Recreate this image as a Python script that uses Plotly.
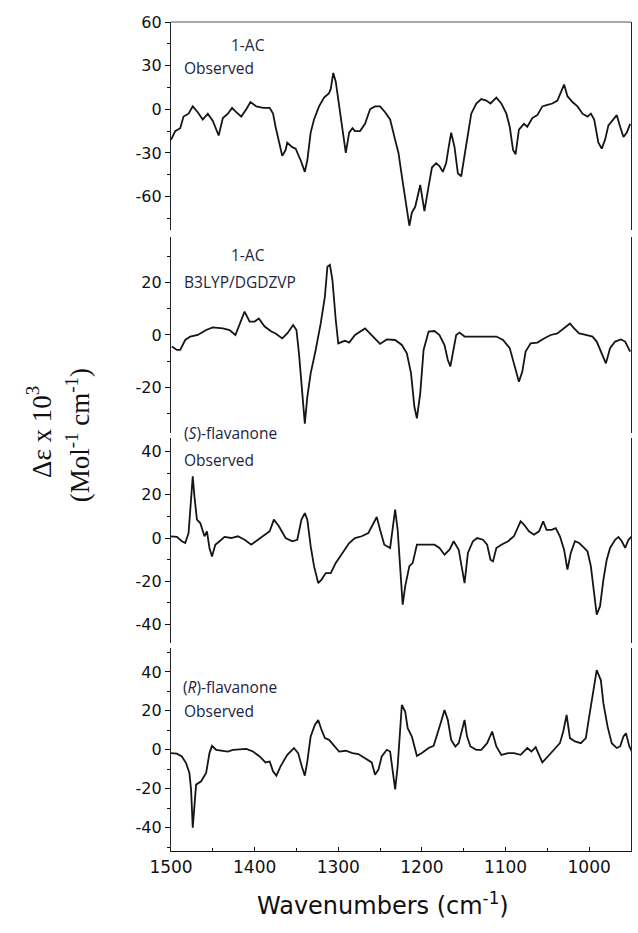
import plotly.graph_objects as go

# --- data (wavenumber in cm-1, delta-epsilon x 10^3) ---
wn_ac_obs = [1500, 1495, 1489, 1485, 1479, 1474, 1468, 1462, 1456, 1450, 1443, 1438, 1432, 1427, 1422,
             1416, 1410, 1405, 1398, 1390, 1382, 1378, 1375, 1371, 1367, 1363, 1361, 1355, 1351, 1345,
             1340, 1337, 1333, 1329, 1323, 1317, 1311, 1309, 1306, 1303, 1299, 1295, 1291, 1287, 1283,
             1280, 1274, 1268, 1262, 1256, 1250, 1244, 1238, 1232, 1228, 1224, 1220, 1215, 1212, 1208,
             1202, 1197, 1192, 1188, 1183, 1179, 1175, 1171, 1168, 1165, 1161, 1157, 1153, 1149, 1145,
             1141, 1135, 1129, 1123, 1118, 1111, 1105, 1099, 1095, 1091, 1088, 1084, 1078, 1074, 1068,
             1062, 1056, 1050, 1044, 1038, 1034, 1030, 1026, 1020, 1014, 1008, 1002, 998, 994, 989,
             985, 981, 977, 971, 967, 963, 959, 955, 951]
de_ac_obs = [-21, -15, -13, -5, -3, 2, -2, -7, -3, -8, -18, -6, -3, 1, -2,
             -5, 0, 5, 2, 1, 1, -3, -12, -23, -32, -28, -23, -26, -27, -35,
             -43, -35, -16, -7, 2, 8, 11, 14, 25, 19, 2, -12, -30, -16, -13,
             -15, -15, -10, 0, 2, 2, -2, -7, -21, -30, -46, -62, -80, -71, -67,
             -52, -70, -53, -40, -37, -39, -43, -37, -26, -16, -26, -44, -46, -32, -16,
             -3, 4, 7, 6, 4, 8, 4, -3, -12, -28, -31, -14, -10, -12, -6,
             -4, 2, 3, 4, 6, 12, 17, 9, 5, 2, -3, -5, -3, -7, -23,
             -27, -21, -11, -7, -4, -12, -19, -16, -10]

wn_ac_calc = [1499, 1493, 1489, 1483, 1477, 1468, 1458, 1450, 1438, 1430, 1423, 1418, 1412, 1406, 1400,
              1395, 1388, 1380, 1375, 1367, 1361, 1354, 1350, 1347, 1344, 1340, 1337, 1333, 1327, 1321,
              1316, 1313, 1310, 1307, 1303, 1300, 1295, 1292, 1287, 1280, 1268, 1260, 1250, 1242, 1232,
              1224, 1218, 1213, 1209, 1206, 1202, 1198, 1192, 1185, 1179, 1173, 1169, 1166, 1163, 1159,
              1155, 1149, 1141, 1121, 1111, 1103, 1095, 1090, 1084, 1080, 1076, 1070, 1062, 1054, 1046,
              1038, 1030, 1023, 1018, 1012, 1004, 996, 991, 985, 980, 975, 969, 962, 957, 951]
de_ac_calc = [-4.4, -5.7, -5.7, -1.9, -0.6, 0, 1.9, 2.9, 2.5, 1.9, 0, 4.4, 8.9, 5.1, 5.1,
              6.3, 3.2, 1.3, 0.6, -1.3, 0.6, 3.8, 1.9, -7, -19.7, -33.7, -23.5, -14.6, -5.7, 4.4,
              14.6, 26, 26.7, 21, 5.7, -3.2, -2.5, -2.2, -2.9, 0, 2.5, 0, -3.4, -1.7, -1.9,
              -3.8, -7, -14.6, -27.3, -31.7, -22.2, -5.7, 1.3, 1.5, 0, -3.8, -9.5, -12, -7, 0,
              0.9, -0.6, -0.6, -0.6, -0.6, -1.9, -5, -10.8, -17.8, -14, -6.3, -3.2, -2.9, -1.3, 0,
              0.6, 2.8, 4.4, 2.5, 0.6, 0, -0.6, -2.5, -7, -10.8, -5, -2.5, -1.7, -2.5, -6.3]

wn_s_obs = [1500, 1493, 1487, 1483, 1479, 1477, 1474, 1472, 1469, 1465, 1460, 1457, 1454, 1451, 1447,
            1442, 1436, 1428, 1420, 1412, 1404, 1396, 1388, 1382, 1377, 1371, 1363, 1355, 1349, 1344,
            1340, 1337, 1333, 1329, 1324, 1320, 1315, 1309, 1303, 1295, 1287, 1280, 1272, 1264, 1258,
            1254, 1250, 1245, 1238, 1235, 1232, 1229, 1226, 1223, 1220, 1215, 1211, 1206, 1200, 1192,
            1185, 1179, 1173, 1167, 1162, 1156, 1152, 1149, 1145, 1139, 1134, 1127, 1122, 1118, 1115,
            1111, 1105, 1097, 1090, 1086, 1082, 1078, 1072, 1066, 1060, 1055, 1051, 1045, 1040, 1035,
            1030, 1026, 1022, 1017, 1012, 1006, 1002, 998, 994, 991, 987, 983, 979, 975, 969,
            965, 961, 957, 953, 949]
de_s_obs = [0.8, 0.5, -1.5, -2.3, 2.3, 14.6, 28.5, 19.2, 8.5, 6.9, 0.8, 3.1, -4.6, -8.5, -3.1,
            -1.5, 0.5, 0, 0.8, -0.8, -3.1, -0.8, 1.5, 3.1, 8.5, 5.4, 0, -1.5, -0.8, 8.5,
            11.5, 8.5, -3.8, -13, -20.8, -19.2, -16.2, -16.2, -11.5, -6.9, -2.3, 0, 0.8, 2.3, 6.9,
            9.7, 3.8, -3.1, -4.6, 3.8, 13.1, 3.8, -14.6, -30.8, -22.3, -13, -11.5, -3.1, -3.1, -3.1,
            -3.1, -4.6, -7.7, -5.4, -1.5, -5.4, -14.6, -20.8, -6.9, -1.5, 0, -0.8, -3.1, -10, -10.8,
            -4.6, -3.1, -1.5, 0.8, 4.6, 7.7, 6.2, 3.1, 1.5, 3.1, 7.7, 3.8, 3.8, 4.6, 0.8,
            -5.4, -14.6, -6.9, -1.5, -2.3, -4.6, -6.2, -13, -26.9, -35.4, -31.5, -19.2, -10, -4.6, -0.8,
            0.5, -1.5, -4.6, -0.8, 0.8]

wn_r_obs = [1500, 1493, 1487, 1482, 1478, 1476, 1474, 1472, 1470, 1464, 1458, 1454, 1451, 1446, 1438,
            1432, 1426, 1418, 1410, 1402, 1394, 1387, 1382, 1378, 1374, 1369, 1361, 1353, 1348, 1343,
            1340, 1337, 1333, 1328, 1324, 1320, 1316, 1311, 1305, 1299, 1291, 1283, 1276, 1268, 1260,
            1256, 1252, 1248, 1242, 1238, 1235, 1232, 1229, 1226, 1224, 1220, 1217, 1212, 1206, 1200,
            1192, 1186, 1181, 1177, 1173, 1169, 1165, 1160, 1156, 1152, 1149, 1146, 1142, 1135, 1129,
            1122, 1116, 1111, 1105, 1097, 1090, 1082, 1074, 1069, 1064, 1060, 1056, 1050, 1042, 1035,
            1031, 1027, 1023, 1017, 1010, 1004, 1000, 995, 991, 986, 983, 978, 973, 967, 963,
            959, 956, 952, 949]
de_r_obs = [-1.7, -2, -3.4, -6.8, -11.9, -20.4, -40, -30.6, -17.9, -16.2, -11.9, -1.7, 2, 0, -0.3,
            -0.9, 0, 0.3, 0.5, -0.9, -3.4, -6.5, -6, -11.1, -13.3, -8.5, -2.6, 0.9, -1.7, -9.4,
            -13.3, -6, 6.8, 12.8, 15.3, 10.2, 6, 5.1, 2, -0.9, -0.5, -1.7, -2.2, -4.3, -6.5,
            -12.8, -10.2, -3.4, 0, -0.9, -11.9, -20.4, -8.5, 13.6, 23, 19.6, 11.1, 6.8, -3.1, -1.7,
            0.9, 2, 8.5, 14.5, 20.4, 15.3, 5.1, 1.7, 3.4, 10.2, 15.3, 6.8, 1.7, 0, 0,
            3.4, 9.4, 1.7, -2.6, -1.7, -1.7, -2.6, 0.9, -0.9, 1.4, -2.6, -6.5, -3.7, 0, 3.4,
            9.4, 17.9, 6, 4.3, 3.4, 6, 17, 30.6, 40.9, 35.7, 23.8, 11.9, 3.4, 0.9, 1.7,
            6.8, 8.5, 1.7, -0.9]

panel_labels = [
    ("1-AC", "Observed"),
    ("1-AC", "B3LYP/DGDZVP"),
    ("(<i>S</i>)-flavanone", "Observed"),
    ("(<i>R</i>)-flavanone", "Observed"),
]
y_ranges = [[-83, 60], [-37.3, 37.3], [-48.5, 46.2], [-52, 52.3]]
y_major = [[60, 30, 0, -30, -60], [20, 0, -20], [40, 20, 0, -20, -40], [40, 20, 0, -20, -40]]
y_minor = [[45, 15, -15, -45, -75], [30, 10, -10, -30], [30, 10, -10, -30], [50, 30, 10, -10, -30, -50]]
x_major = [1500, 1400, 1300, 1200, 1100, 1000]
x_minor = [1450, 1350, 1250, 1150, 1050, 950]

series = [(wn_ac_obs, de_ac_obs), (wn_ac_calc, de_ac_calc), (wn_s_obs, de_s_obs), (wn_r_obs, de_r_obs)]
domains = [[0.749, 1.0], [0.5042, 0.7407], [0.2509, 0.4982], [0.0, 0.2449]]

LINE = '#151515'
LABEL = '#1c2541'
TICK_FONT = dict(family='DejaVu Sans', size=16, color='#111')

fig = go.Figure()
for i, (wn, de) in enumerate(series):
    fig.add_trace(go.Scatter(x=wn, y=de, mode='lines', line=dict(color=LINE, width=1.8),
                             yaxis='y' if i == 0 else f'y{i + 1}', xaxis='x', showlegend=False))

layout = dict(
    width=638, height=933, autosize=False,
    paper_bgcolor='white', plot_bgcolor='white',
    margin=dict(l=171, r=7, t=22, b=82),
    xaxis=dict(range=[1500, 950], anchor='y4', showgrid=False, zeroline=False,
               showline=True, linecolor='#111', linewidth=1.2,
               tickmode='array', tickvals=x_major, ticks='inside', ticklen=4, tickcolor='#111',
               minor=dict(tickmode='array', tickvals=x_minor, ticks='inside', ticklen=3, tickcolor='#111'),
               tickfont=dict(family='DejaVu Sans', size=17, color='#111')),
)
for i in range(4):
    key = 'yaxis' if i == 0 else f'yaxis{i + 1}'
    # mirror=True puts the frame line on the right-hand side as well (ticks stay on the left)
    layout[key] = dict(domain=domains[i], range=y_ranges[i], anchor='x', mirror=True,
                       showgrid=False, zeroline=False, showline=True, linecolor='#222', linewidth=1.3,
                       tickmode='array', tickvals=y_major[i], ticktext=[str(v) for v in y_major[i]],
                       ticks='outside', ticklen=5, tickcolor='#111', tickfont=TICK_FONT,
                       minor=dict(tickmode='array', tickvals=y_minor[i], ticks='outside', ticklen=3,
                                  tickcolor='#111'))
fig.update_layout(**layout)

# top frame of the first panel
fig.add_shape(type='line', xref='paper', yref='paper', x0=0, x1=1, y0=1, y1=1,
              line=dict(color='#555', width=1.2))

label_pos = [
    ((0.208, 0.972, 'right'), (0.024, 0.9445, 'left')),
    ((0.208, 0.719, 'right'), (0.024, 0.686, 'left')),
    ((0.024, 0.504, 'left'), (0.024, 0.4717, 'left')),
    ((0.022, 0.1978, 'left'), (0.024, 0.1689, 'left')),
]
for (l1, l2), (p1, p2) in zip(panel_labels, label_pos):
    for text, (x, y, anchor) in ((l1, p1), (l2, p2)):
        fig.add_annotation(text=text, x=x, y=y, xref='paper', yref='paper', xanchor=anchor,
                           yanchor='middle', showarrow=False,
                           font=dict(family='Open Sans', size=15.5, color=LABEL))

fig.add_annotation(text='Wavenumbers (cm<sup>-1</sup>)', x=0.461, y=-0.064, xref='paper', yref='paper',
                   xanchor='center', yanchor='middle', showarrow=False,
                   font=dict(family='DejaVu Sans', size=24, color='#111'))
fig.add_annotation(text='\u0394\u03b5 x 10<sup>3</sup>', x=-0.2857, y=0.505, xref='paper', yref='paper',
                   xanchor='center', yanchor='middle', textangle=-90, showarrow=False,
                   font=dict(family='Liberation Serif', size=27, color='#111'))
fig.add_annotation(text='(Mol<sup>-1</sup> cm<sup>-1</sup>)', x=-0.2035, y=0.502, xref='paper', yref='paper',
                   xanchor='center', yanchor='middle', textangle=-90, showarrow=False,
                   font=dict(family='Liberation Serif', size=27, color='#111'))

# drop the browser's default page margin so the figure sits at the window's corner
fig.write_html('out.html', config={'displayModeBar': False},
               post_script="document.body.style.margin='0';")
